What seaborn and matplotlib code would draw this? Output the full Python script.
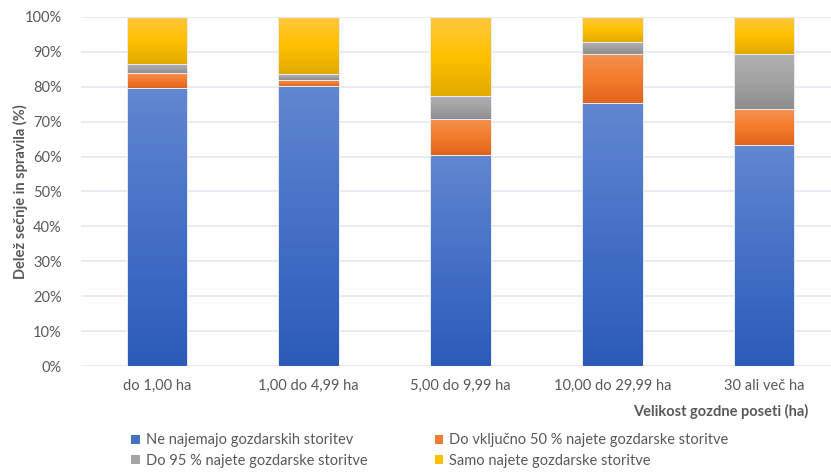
import numpy as np
import pandas as pd
import seaborn as sns
import matplotlib.pyplot as plt
from matplotlib.colors import LinearSegmentedColormap
from matplotlib.patches import Patch
from matplotlib.ticker import PercentFormatter

# Data (share of felling and skidding, %)
categories = ['do 1,00 ha', '1,00 do 4,99 ha', '5,00 do 9,99 ha',
              '10,00 do 29,99 ha', '30 ali več ha']
ne_najemajo = [79.6, 80.3, 60.5, 75.4, 63.3]
do_50 = [4.4, 1.6, 10.3, 14.0, 10.3]
do_95 = [2.4, 1.7, 6.7, 3.5, 15.9]
samo = [13.6, 16.4, 22.5, 7.1, 10.5]

series_names = ['Ne najemajo gozdarskih storitev',
                'Do vključno 50 % najete gozdarske storitve',
                'Do 95 % najete gozdarske storitve',
                'Samo najete gozdarske storitve']
series_values = [ne_najemajo, do_50, do_95, samo]

# gradient colours, bottom -> middle -> top (Excel style fill)
gradients = [['#2C5BB9', '#4470C6', '#6187D0'],
             ['#DF651A', '#F47C2C', '#F39150'],
             ['#8E8E8E', '#A2A2A2', '#B2B2B2'],
             ['#E2AB00', '#FFC000', '#FFC840']]
legend_colors = ['#4472C4', '#ED7D31', '#A5A5A5', '#FFC000']

rows = []
for name, vals in zip(series_names, series_values):
    for cat, v in zip(categories, vals):
        rows.append({'kategorija': cat, 'serija': name, 'delez': v})
df = pd.DataFrame(rows)
df['spodaj'] = df.groupby('kategorija', sort=False)['delez'].cumsum() - df['delez']

sns.set_style('white')
plt.rcParams['font.family'] = ['Lato', 'DejaVu Sans']
text_col = '#595959'

fig = plt.figure(figsize=(8.31, 4.73), dpi=100)
ax = fig.add_axes([81 / 831, 107 / 473, 759 / 831, 349 / 473])

for name, grad in zip(series_names, gradients):
    sub = df[df['serija'] == name]
    sns.barplot(data=sub, x='kategorija', y='delez', order=categories,
                bottom=sub['spodaj'].values, width=0.4, errorbar=None,
                color=grad[1], ax=ax, zorder=3)
    cmap = LinearSegmentedColormap.from_list(name, grad)
    for bar in ax.containers[-1]:
        x, y = bar.get_x(), bar.get_y()
        w, h = bar.get_width(), bar.get_height()
        img = ax.imshow(np.linspace(0, 1, 64).reshape(-1, 1), cmap=cmap,
                        origin='lower', aspect='auto', zorder=2.5,
                        extent=[x, x + w, y, y + h])
        img.set_clip_path(bar)
        bar.set_facecolor('none')
        bar.set_edgecolor('#E6ECF6')
        bar.set_linewidth(0.7)

ax.set_xlim(-0.5, 4.5)
ax.set_ylim(0, 100)
ax.set_yticks(np.arange(0, 101, 10))
ax.yaxis.set_major_formatter(PercentFormatter(decimals=0))
ax.grid(axis='y', color='#E4E8EE', linewidth=1.2, zorder=0)
ax.set_axisbelow(True)
sns.despine(ax=ax, left=True, bottom=True)
ax.tick_params(axis='both', length=0, labelsize=10.5, colors=text_col)
ax.tick_params(axis='y', pad=14)
ax.tick_params(axis='x', pad=9)

ax.set_xlabel('')
ax.set_ylabel('Delež sečnje in spravila (%)', fontsize=10.5,
              fontweight='bold', color=text_col)
ax.yaxis.set_label_coords(-0.070, 0.5)
fig.text(808 / 831, 1 - 411 / 473, 'Velikost gozdne poseti (ha)',
         ha='right', va='center', fontsize=10.5, fontweight='bold',
         color=text_col)

# legend in rows: matplotlib fills columns first, so reorder
order = [0, 2, 1, 3]
handles = [Patch(facecolor=legend_colors[i], edgecolor='none') for i in order]
labels = [series_names[i] for i in order]
fig.legend(handles, labels, loc='upper left', ncol=2,
           bbox_to_anchor=(127 / 831, 1 - 429 / 473), frameon=False,
           borderaxespad=0, borderpad=0.3,
           handlelength=0.6, handleheight=0.6, handletextpad=0.4,
           columnspacing=4.6, labelspacing=0.45, fontsize=10.5,
           labelcolor=text_col)

fig.savefig('out.png', dpi=100)
